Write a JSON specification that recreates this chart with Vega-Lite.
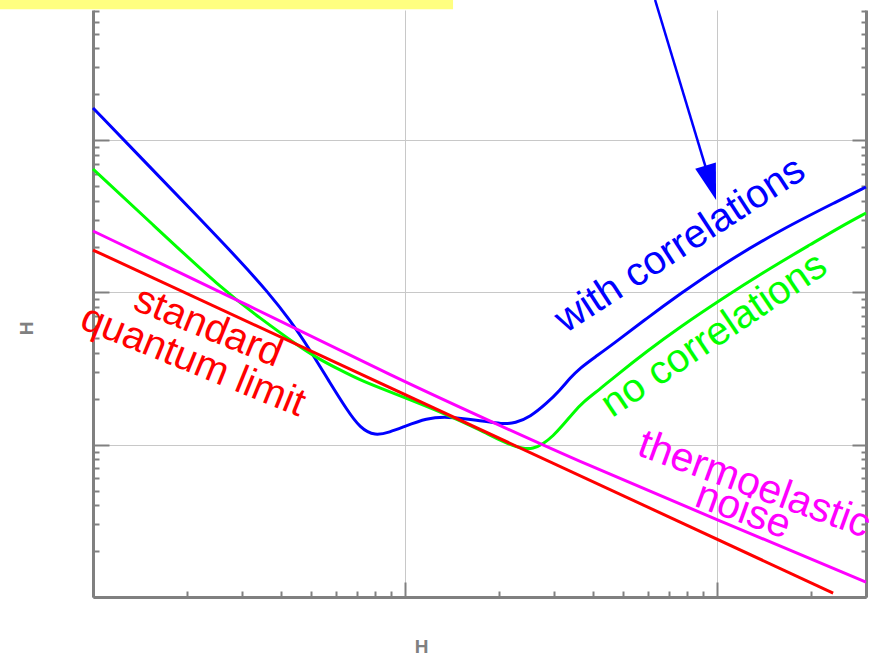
{
  "$schema": "https://vega.github.io/schema/vega-lite/v6.json",
  "width": 773,
  "height": 587,
  "autosize": {"type": "none"},
  "padding": {"left": 93, "top": 10, "right": 8, "bottom": 58},
  "background": "white",
  "config": {"view": {"stroke": null}, "font": "Liberation Sans"},
  "resolve": {"axis": {"x": "independent", "y": "independent"}},
  "datasets": {
    "curves": [
      {"series": "with", "f": 10, "h": 1625},
      {"series": "with", "f": 15.23, "h": 665.9},
      {"series": "with", "f": 22.03, "h": 303.4},
      {"series": "with", "f": 29.59, "h": 160.8},
      {"series": "with", "f": 36.12, "h": 102.1},
      {"series": "with", "f": 42.8, "h": 65.88},
      {"series": "with", "f": 49.61, "h": 41.86},
      {"series": "with", "f": 57.49, "h": 25.42},
      {"series": "with", "f": 65.18, "h": 16.9},
      {"series": "with", "f": 71.74, "h": 12.87},
      {"series": "with", "f": 80.13, "h": 11.4},
      {"series": "with", "f": 89.52, "h": 12.12},
      {"series": "with", "f": 98.54, "h": 13.07},
      {"series": "with", "f": 117.6, "h": 14.97},
      {"series": "with", "f": 136.3, "h": 15.3},
      {"series": "with", "f": 170.2, "h": 14.53},
      {"series": "with", "f": 206.2, "h": 13.6},
      {"series": "with", "f": 225.3, "h": 13.88},
      {"series": "with", "f": 251.5, "h": 15.2},
      {"series": "with", "f": 285.1, "h": 18.79},
      {"series": "with", "f": 314.0, "h": 22.87},
      {"series": "with", "f": 337.9, "h": 27.42},
      {"series": "with", "f": 363.9, "h": 31.89},
      {"series": "with", "f": 406.4, "h": 37.65},
      {"series": "with", "f": 464.2, "h": 45.84},
      {"series": "with", "f": 596.5, "h": 67.9},
      {"series": "with", "f": 761.0, "h": 97.61},
      {"series": "with", "f": 1022, "h": 149.1},
      {"series": "with", "f": 1592, "h": 256.8},
      {"series": "with", "f": 2479, "h": 404.3},
      {"series": "with", "f": 3000, "h": 492.2},
      {"series": "none", "f": 10, "h": 646.0},
      {"series": "none", "f": 15.23, "h": 289.9},
      {"series": "none", "f": 26.1, "h": 103.7},
      {"series": "none", "f": 34.3, "h": 67.9},
      {"series": "none", "f": 45.06, "h": 45.13},
      {"series": "none", "f": 52.24, "h": 37.1},
      {"series": "none", "f": 61.9, "h": 30.94},
      {"series": "none", "f": 71.74, "h": 26.6},
      {"series": "none", "f": 83.15, "h": 23.57},
      {"series": "none", "f": 98.54, "h": 20.57},
      {"series": "none", "f": 132.4, "h": 16.15},
      {"series": "none", "f": 174.0, "h": 12.49},
      {"series": "none", "f": 212.3, "h": 10.11},
      {"series": "none", "f": 238.9, "h": 9.4},
      {"series": "none", "f": 257.2, "h": 9.4},
      {"series": "none", "f": 276.9, "h": 10.11},
      {"series": "none", "f": 298.1, "h": 11.41},
      {"series": "none", "f": 320.9, "h": 13.47},
      {"series": "none", "f": 345.5, "h": 16.15},
      {"series": "none", "f": 372.0, "h": 19.07},
      {"series": "none", "f": 421.7, "h": 23.22},
      {"series": "none", "f": 464.2, "h": 27.42},
      {"series": "none", "f": 596.5, "h": 41.23},
      {"series": "none", "f": 761.0, "h": 59.28},
      {"series": "none", "f": 1022, "h": 89.15},
      {"series": "none", "f": 1446, "h": 140.3},
      {"series": "none", "f": 2031, "h": 211.1},
      {"series": "none", "f": 2479, "h": 268.8},
      {"series": "none", "f": 3000, "h": 332.1},
      {"series": "sql", "f": 10, "h": 189.8},
      {"series": "sql", "f": 2354, "h": 1.062},
      {"series": "thermo", "f": 10, "h": 253.0},
      {"series": "thermo", "f": 31.85, "h": 81.42},
      {"series": "thermo", "f": 94.97, "h": 27.0},
      {"series": "thermo", "f": 187.3, "h": 14.31},
      {"series": "thermo", "f": 363.9, "h": 7.7},
      {"series": "thermo", "f": 1022, "h": 3.155},
      {"series": "thermo", "f": 3000, "h": 1.254}
    ]
  },
  "layer": [
    {
      "data": {"values": [{"f": 5.03, "f2": 142.5, "h": 7230, "h2": 9500}]},
      "mark": {"type": "rect", "color": "#ffff80"},
      "encoding": {
        "x": {"field": "f", "type": "quantitative", "scale": {"type": "log", "domain": [10, 3000]}, "axis": null},
        "x2": {"field": "f2"},
        "y": {"field": "h", "type": "quantitative", "scale": {"type": "log", "domain": [1, 7150]},
          "axis": {
            "orient": "right", "title": null, "labels": false, "grid": false,
            "values": [1,2,3,4,5,6,7,8,9,10,20,30,40,50,60,70,80,90,100,200,300,400,500,600,700,800,900,1000,2000,3000,4000,5000,6000,7000],
            "domainColor": "#808080", "domainWidth": 3,
            "tickColor": "#808080", "tickWidth": 2,
            "tickSize": {"condition": {"test": "indexof([10,100,1000], datum.value) >= 0", "value": -14}, "value": -5}
          }},
        "y2": {"field": "h2"}
      }
    },
    {
      "data": {"name": "curves"},
      "mark": {"type": "line", "strokeWidth": 3, "interpolate": "basis", "clip": false},
      "encoding": {
        "x": {"field": "f", "type": "quantitative", "scale": {"type": "log", "domain": [10, 3000]},
          "axis": {
            "orient": "bottom", "labels": false,
            "values": [10,20,30,40,50,60,70,80,90,100,200,300,400,500,600,700,800,900,1000,2000,3000],
            "title": "H", "titleX": 328, "titleY": 49, "titleAlign": "center", "titleBaseline": "middle",
            "titleFont": "Liberation Sans", "titleFontSize": 19, "titleFontWeight": "bold", "titleColor": "#808080",
            "domainColor": "#808080", "domainWidth": 3,
            "tickColor": "#808080", "tickWidth": 2,
            "tickSize": {"condition": {"test": "indexof([10,100,1000], datum.value) >= 0", "value": -15}, "value": -6},
            "grid": true, "gridColor": "#c8c8c8", "gridWidth": 1,
            "gridOpacity": {"condition": {"test": "indexof([100,1000], datum.value) >= 0", "value": 1}, "value": 0}
          }},
        "y": {"field": "h", "type": "quantitative", "scale": {"type": "log", "domain": [1, 7150]},
          "axis": {
            "orient": "left", "labels": false,
            "values": [1,2,3,4,5,6,7,8,9,10,20,30,40,50,60,70,80,90,100,200,300,400,500,600,700,800,900,1000,2000,3000,4000,5000,6000,7000],
            "title": "H", "titleX": -67, "titleY": 318, "titleAngle": 270, "titleAlign": "center", "titleBaseline": "middle",
            "titleFont": "Liberation Sans", "titleFontSize": 19, "titleFontWeight": "bold", "titleColor": "#808080",
            "domainColor": "#808080", "domainWidth": 3,
            "tickColor": "#808080", "tickWidth": 2,
            "tickSize": {"condition": {"test": "indexof([10,100,1000], datum.value) >= 0", "value": -16}, "value": -6},
            "grid": true, "gridColor": "#c8c8c8", "gridWidth": 1,
            "gridOpacity": {"condition": {"test": "indexof([10,100,1000], datum.value) >= 0", "value": 1}, "value": 0}
          }},
        "color": {"field": "series", "type": "nominal",
          "scale": {"domain": ["with", "none", "sql", "thermo"], "range": ["#0000ff", "#00ff00", "#ff0000", "#ff00ff"]},
          "legend": null}
      }
    },
    {
      "data": {"values": [{"f": 632.8, "h": 8318, "f2": 929, "h2": 617.3}]},
      "mark": {"type": "rule", "color": "#0000ff", "strokeWidth": 2.5},
      "encoding": {
        "x": {"field": "f", "type": "quantitative", "scale": {"type": "log", "domain": [10, 3000]}, "axis": null},
        "x2": {"field": "f2"},
        "y": {"field": "h", "type": "quantitative", "scale": {"type": "log", "domain": [1, 7150]}, "axis": null},
        "y2": {"field": "h2"}
      }
    },
    {
      "data": {"values": [{"f": 954.5, "h": 524.3}]},
      "mark": {"type": "point", "shape": "M-0.6,-1L0.6,-1L0,1Z", "size": 1296, "angle": 343, "filled": true, "color": "#0000ff", "opacity": 1},
      "encoding": {
        "x": {"field": "f", "type": "quantitative", "scale": {"type": "log", "domain": [10, 3000]}, "axis": null},
        "y": {"field": "h", "type": "quantitative", "scale": {"type": "log", "domain": [1, 7150]}, "axis": null}
      }
    },
    {
      "data": {"values": [{"label": "standard", "f": 23.37, "h": 59.28}, {"label": "quantum limit", "f": 20.91, "h": 35.44}]},
      "mark": {"type": "text", "font": "Liberation Sans", "fontSize": 40, "color": "#ff0000", "angle": 22, "align": "center", "baseline": "middle"},
      "encoding": {
        "text": {"field": "label"},
        "x": {"field": "f", "type": "quantitative", "scale": {"type": "log", "domain": [10, 3000]}, "axis": null},
        "y": {"field": "h", "type": "quantitative", "scale": {"type": "log", "domain": [1, 7150]}, "axis": null}
      }
    },
    {
      "data": {"values": [{"label": "with correlations", "f": 761.0, "h": 204.8}]},
      "mark": {"type": "text", "font": "Liberation Sans", "fontSize": 40, "color": "#0000ff", "angle": 327, "align": "center", "baseline": "middle"},
      "encoding": {
        "text": {"field": "label"},
        "x": {"field": "f", "type": "quantitative", "scale": {"type": "log", "domain": [10, 3000]}, "axis": null},
        "y": {"field": "h", "type": "quantitative", "scale": {"type": "log", "domain": [1, 7150]}, "axis": null}
      }
    },
    {
      "data": {"values": [{"label": "no correlations", "f": 978.1, "h": 52.53}]},
      "mark": {"type": "text", "font": "Liberation Sans", "fontSize": 40, "color": "#00ff00", "angle": 326, "align": "center", "baseline": "middle"},
      "encoding": {
        "text": {"field": "label"},
        "x": {"field": "f", "type": "quantitative", "scale": {"type": "log", "domain": [10, 3000]}, "axis": null},
        "y": {"field": "h", "type": "quantitative", "scale": {"type": "log", "domain": [1, 7150]}, "axis": null}
      }
    },
    {
      "data": {"values": [{"label": "thermoelastic", "f": 1314, "h": 5.437}, {"label": "noise", "f": 1211, "h": 3.67}]},
      "mark": {"type": "text", "font": "Liberation Sans", "fontSize": 41, "color": "#ff00ff", "angle": 20, "align": "center", "baseline": "middle"},
      "encoding": {
        "text": {"field": "label"},
        "x": {"field": "f", "type": "quantitative", "scale": {"type": "log", "domain": [10, 3000]}, "axis": null},
        "y": {"field": "h", "type": "quantitative", "scale": {"type": "log", "domain": [1, 7150]}, "axis": null}
      }
    }
  ]
}
